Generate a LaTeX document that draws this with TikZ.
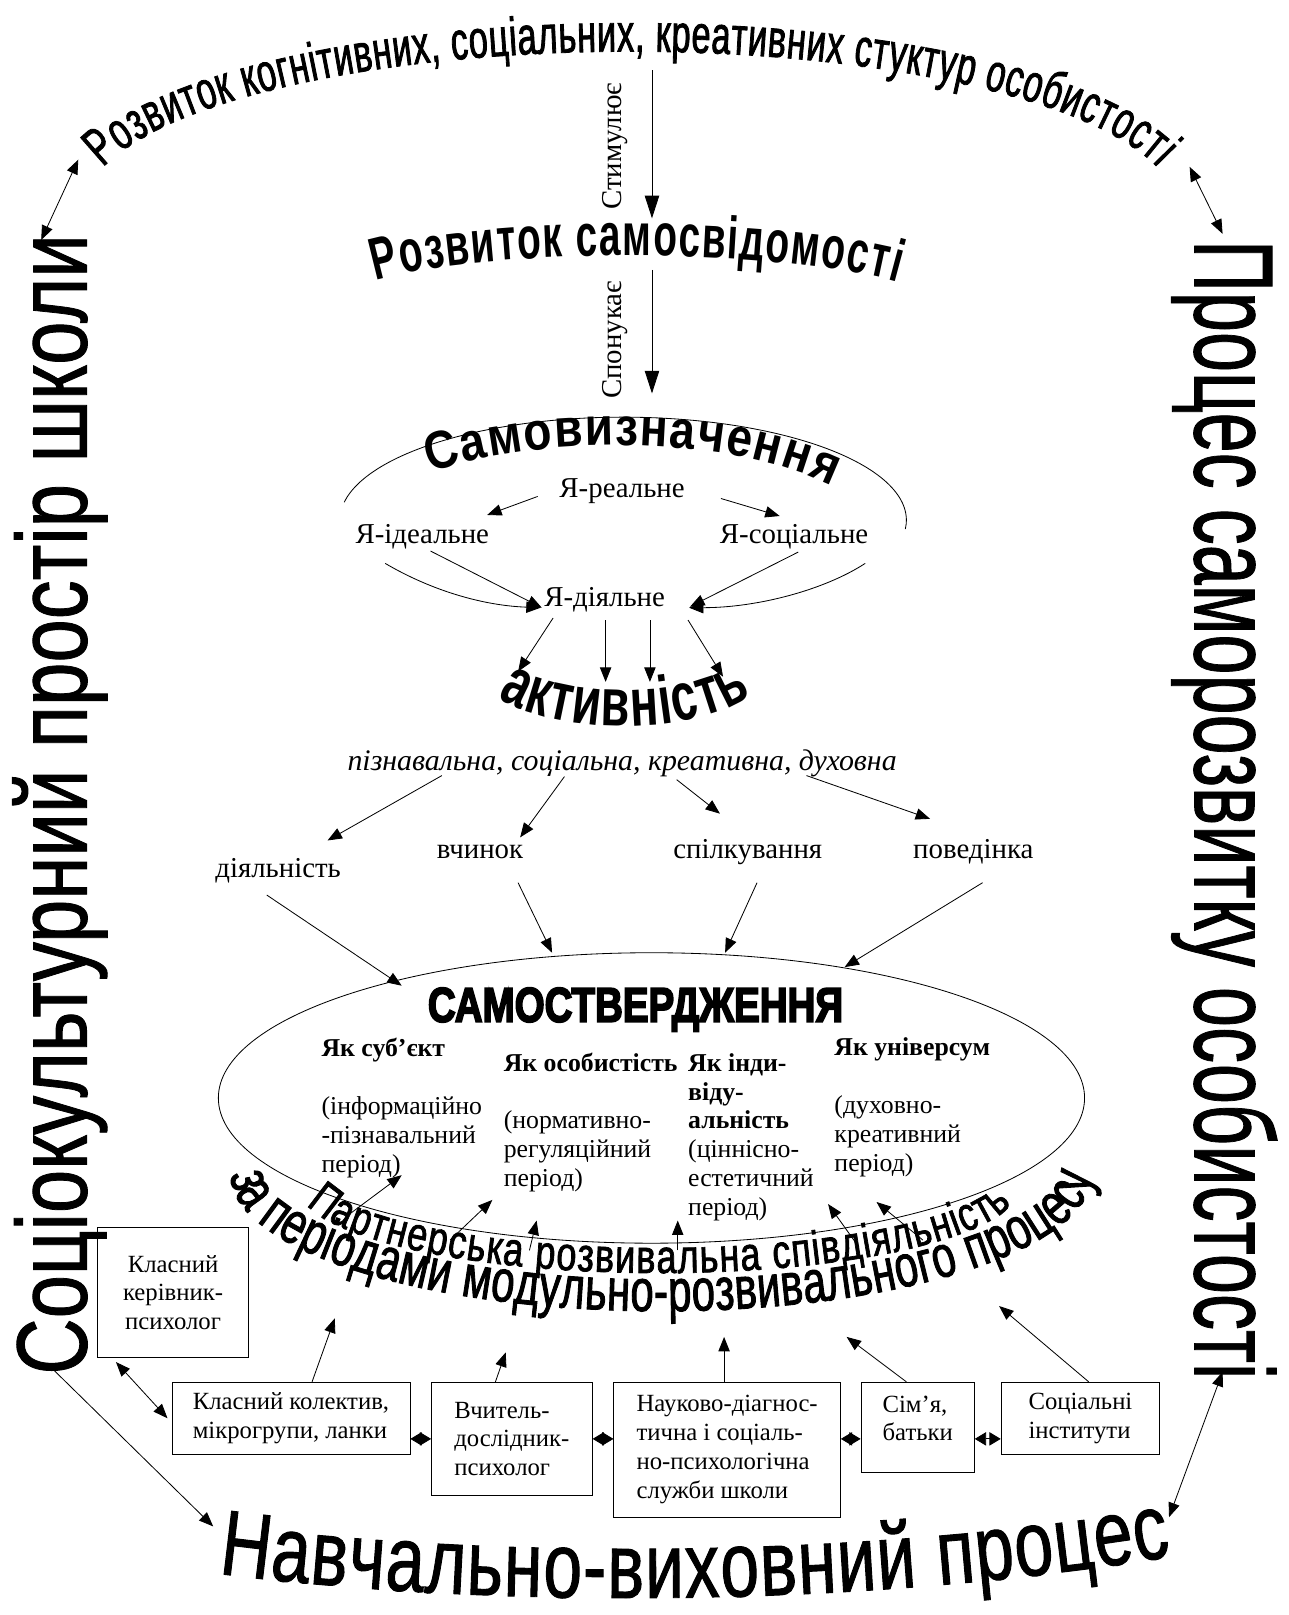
\documentclass[tikz,border=0pt]{standalone}
\usepackage{graphicx}
\usepackage{fontspec}
\setmainfont{Liberation Serif}
\newfontfamily\waTop[FakeStretch=0.64,FakeBold=1.5]{Liberation Sans}
\newfontfamily\waRS[FakeStretch=0.65]{Liberation Sans}
\newfontfamily\waSV[FakeStretch=0.86]{Liberation Sans}
\newfontfamily\waAct[FakeStretch=0.69]{Liberation Sans}
\newfontfamily\waPart[FakeStretch=0.76,FakeBold=1.5]{Liberation Sans}
\newfontfamily\waZa[FakeStretch=0.70,FakeBold=1.5]{Liberation Sans}
\newfontfamily\waNav[FakeStretch=0.75,FakeBold=1]{Liberation Sans}
\newfontfamily\waSide[FakeBold=1]{Liberation Sans}
\newfontfamily\heavyfont[FakeBold=4]{Liberation Sans}
\usetikzlibrary{arrows.meta,decorations.text,calc,shapes.geometric}
\begin{document}
\begin{tikzpicture}[x=1pt,y=-1pt,
  every node/.style={inner sep=0pt},
  lab/.style={font=\fontsize{28}{32}\selectfont},
  col/.style={font=\fontsize{25}{28}\selectfont, align=left, anchor=base west},
  box/.style={draw, line width=0.8pt, font=\fontsize{24}{28}\selectfont, align=left},
  arr/.style={line width=0.8pt, -{Triangle[length=14pt,width=11pt]}},
  darr/.style={line width=0.8pt, {Triangle[length=14pt,width=11pt]}-{Triangle[length=14pt,width=11pt]}},
  dbox/.style={line width=0.8pt, {Triangle[length=11pt,width=13pt]}-{Triangle[length=11pt,width=13pt]}},
  bigarr/.style={line width=0.8pt, -{Triangle[length=22pt,width=14pt]}}
]
\useasboundingbox (0,0) rectangle (1251,1568);

% ---------- curved WordArt-like texts ----------
\coordinate (topt) at (612,212);
\path[decorate, decoration={text along path, text align=fit to path,
  text={|\waTop\fontsize{52pt}{52pt}\selectfont|Розвиток когнітивних, соціальних, креативних стуктур особистості}}]
  plot[domain=165:15, samples=120] ({612+530*cos(\x)},{202-152*sin(\x)});

\coordinate (rs) at (618,252);
\path[decorate, decoration={text along path, text align=fit to path,
  text={|\waRS\bfseries\fontsize{58pt}{58pt}\selectfont|Розвиток самосвідомості}}]
  plot[domain=0:1, samples=60] ({365*(1-\x)^3+1440*(1-\x)^2*\x+2250*(1-\x)*\x^2+872*\x^3},{272*(1-\x)^3+720*(1-\x)^2*\x+720*(1-\x)*\x^2+274*\x^3});

\coordinate (sv) at (612,432);
\path[decorate, decoration={text along path, text align=fit to path,
  text={|\waSV\bfseries\fontsize{52pt}{52pt}\selectfont|Самовизначення}}]
  plot[domain=0:1, samples=60] ({418*(1-\x)^3+1530*(1-\x)^2*\x+2100*(1-\x)*\x^2+808*\x^3},{459*(1-\x)^3+1275*(1-\x)^2*\x+1254*(1-\x)*\x^2+472*\x^3});

\coordinate (act) at (606,685);
\path[decorate, decoration={text along path, text align=fit to path,
  text={|\waAct\bfseries\fontsize{66pt}{66pt}\selectfont|активність}}]
  plot[domain=0:1, samples=50] ({483*(1-\x)^3+1635*(1-\x)^2*\x+2010*(1-\x)*\x^2+730*\x^3},{678*(1-\x)^3+2145*(1-\x)^2*\x+2145*(1-\x)*\x^2+675*\x^3});

\coordinate (prt) at (640,1234);
\path[decorate, decoration={text along path, text align=fit to path,
  text={|\waPart\fontsize{46pt}{46pt}\selectfont|Партнерська розвивальна співдіяльність}}]
  plot[domain=192:348, samples=100] ({640+350*cos(\x)},{1152-84*sin(\x)});

\coordinate (zap) at (642,1240);
\path[decorate, decoration={text along path, text align=fit to path,
  text={|\waZa\fontsize{58pt}{58pt}\selectfont|за періодами модульно-розвивального процесу}}]
  plot[domain=180:360, samples=120] ({642+418*cos(\x)},{1140-133*sin(\x)});

\coordinate (nav) at (675,1560);
\path[decorate, decoration={text along path, text align=fit to path,
  text={|\waNav\fontsize{90pt}{90pt}\selectfont|Навчально-виховний процес}}]
  plot[domain=0:1, samples=80] ({212*(1-\x)^3+1500*(1-\x)^2*\x+2550*(1-\x)*\x^2+1138*\x^3},{1528*(1-\x)^3+4692*(1-\x)^2*\x+4677*(1-\x)*\x^2+1511*\x^3});

% ---------- side texts ----------
\node[anchor=base, rotate=90] (soc) at (84,781) {\resizebox{1107pt}{72pt}{\waSide Соціокультурний простір школи}};
\node[anchor=base, rotate=-90] (proc) at (1160,786) {\resizebox{1105pt}{80pt}{\waSide Процес саморозвитку особистості}};

% corner arrows
\draw[darr] ($(soc.base)+(-44,-548)$) -- ($(topt)+(-536,-57)$);
\draw[darr] ($(topt)+(543,-50)$) -- ($(proc.base)+(27,-559)$);
\draw[arr] ($(soc.base)+(-32,549)$) -- ($(nav)+(-468,-78)$);
\draw[darr] ($(proc.base)+(27,546)$) -- ($(nav)+(460,-87)$);

% ---------- upper part ----------
\node[rotate=90, font=\fontsize{28}{28}\selectfont] (stim) at (597,142) {Стимулює};
\node[rotate=90, font=\fontsize{28}{28}\selectfont] (spon) at (597,330) {Спонукає};
\draw[bigarr] ($(topt)+(21,-144)$) -- ($(rs)+(15,-40)$);
\draw[bigarr] ($(rs)+(15,10)$) -- ($(sv)+(21,-50)$);

% self-determination ellipse (upper part)
\draw[line width=0.8pt] plot[domain=170:-5, samples=60, smooth] ({605+275*cos(\x)},{505-100*sin(\x)});
\coordinate (svl) at (374,547);
\coordinate (svr) at (840,547);

\node[lab] (yr) at (604,477) {Я-реальне};
\node[lab] (yi) at (410,521) {Я-ідеальне};
\node[lab] (ys) at (771,521) {Я-соціальне};
\node[lab] (yd) at (587,582) {Я-діяльне};

\draw[arr] ($(yr)+(-82,5)$) -- ($(yi)+(63,-21)$);
\draw[arr] ($(yr)+(96,7)$) -- ($(ys)+(-14,-20)$);
\draw[arr] ($(yi)+(8,14)$) -- ($(yd)+(-61,8)$);
\draw[arr] ($(ys)+(4,15)$) -- ($(yd)+(83,7)$);
\draw[arr] (svl) .. controls (420,574) and (470,588) .. ($(yd)+(-62,8)$);
\draw[arr] (svr) .. controls (800,573) and (735,590) .. ($(yd)+(82,8)$);

\draw[arr] ($(yd)+(-50,18)$) -- ($(act)+(-103,-33)$);
\draw[arr] ($(yd)+(1,20)$) -- ($(act)+(-18,-23)$);
\draw[arr] ($(yd)+(44,20)$) -- ($(act)+(25,-23)$);
\draw[arr] ($(yd)+(81,20)$) -- ($(act)+(96,-28)$);

% ---------- kinds of activity ----------
\node[font=\fontsize{29}{32}\selectfont\itshape] (kinds) at (604,741) {пізнавальна, соціальна, креативна, духовна};
\node[lab] (dial) at (270,845) {діяльність};
\node[lab] (vch) at (466,827) {вчинок};
\node[lab] (spil) at (726,827) {спілкування};
\node[lab] (pov) at (945,827) {поведінка};

\draw[arr] ($(kinds)+(-175,12)$) -- ($(dial)+(48,-29)$);
\draw[arr] ($(kinds)+(-56,13)$) -- ($(vch)+(39,-14)$);
\draw[arr] ($(kinds)+(53,16)$) -- ($(spil)+(-27,-37)$);
\draw[arr] ($(kinds)+(179,12)$) -- ($(pov)+(-42,-32)$);

% ---------- self-assertion ellipse ----------
\node[draw, ellipse, line width=0.8pt, minimum width=841pt, minimum height=282pt] (ell) at (632.5,1066) {};
\node[anchor=base] (st) at (617,992) {\resizebox{403pt}{33pt}{\heavyfont\bfseries САМОСТВЕРДЖЕННЯ}};

\draw[arr] ($(dial)+(-11,24)$) -- ($(ell)+(-242.5,-109)$);
\draw[arr] ($(vch)+(37,30)$) -- ($(ell)+(-96.5,-141)$);
\draw[arr] ($(spil)+(9,30)$) -- ($(ell)+(71.5,-141)$);
\draw[arr] ($(pov)+(9,30)$) -- ($(ell)+(187.5,-127)$);

% base anchor of a multi-line node = baseline of its last line
\node[col] (c1) at (312,1138) {\textbf{Як суб’єкт}\\[28pt](інформаційно\\-пізнавальний\\період)};
\node[col] (c2) at (489,1152) {\textbf{Як особистість}\\[28pt](нормативно-\\регуляційний\\період)};
\node[col] (c3) at (668,1180) {\textbf{Як інди-}\\\textbf{віду-}\\\textbf{альність}\\(ціннісно-\\естетичний\\період)};
\node[col] (c4) at (810,1137) {\textbf{Як універсум}\\[28pt](духовно-\\креативний\\період)};

\draw[arr] ($(prt)+(-305,-52)$) -- ($(ell)+(-242.5,75)$);
\draw[arr] ($(prt)+(-203,-30)$) -- ($(ell)+(-154.5,99)$);
\draw[arr] ($(prt)+(-126,-20)$) -- ($(ell)+(-111.5,119)$);
\draw[arr] ($(prt)+(18,-20)$) -- ($(ell)+(25.5,119)$);
\draw[arr] ($(prt)+(194,-23)$) -- ($(ell)+(171.5,103)$);
\draw[arr] ($(prt)+(256,-30)$) -- ($(ell)+(218.5,101)$);

% ---------- boxes ----------
\node[box, minimum width=146pt, minimum height=126pt, align=center] (b0) at (168,1255) {Класний\\керівник-\\психолог};
\node[box, minimum width=231pt, minimum height=70pt] (b1) at (282.5,1377) {Класний колектив,\\мікрогрупи, ланки};
\node[box, minimum width=156pt, minimum height=110pt] (b2) at (497,1397) {Вчитель-\\дослідник-\\психолог};
\node[box, minimum width=220pt, minimum height=131pt] (b3) at (706,1407.5) {Науково-діагнос-\\тична і соціаль-\\но-психологічна\\служби школи};
\node[box, minimum width=110pt, minimum height=88pt, text depth=18pt] (b4) at (891,1386) {Сім’я,\\батьки};
\node[box, minimum width=154pt, minimum height=70pt] (b5) at (1049,1377) {Соціальні\\інститути};

\draw[darr] ($(b0.south west)+(18,4)$) -- ($(b1.west)+(-4,0)$);
\draw[dbox] (b1.east |- b2.west) -- (b2.west);
\draw[dbox] (b2.east) -- (b2.east -| b3.west);
\draw[dbox] (b3.east |- b2.east) -- (b4.west |- b2.east);
\draw[dbox] (b4.east |- b2.east) -- (b5.west |- b2.east);

\draw[arr] ($(b1.north)+(20.5,0)$) -- ($(zap)+(-317,40)$);
\draw[arr] ($(b2.north)+(-16,0)$) -- ($(zap)+(-151,73)$);
\draw[arr] ($(b3.north)+(-3,0)$) -- ($(zap)+(61,58)$);
\draw[arr] ($(b4.north)+(-11,0)$) -- ($(zap)+(180,58)$);
\draw[arr] ($(b5.north)+(8,0)$) -- ($(zap)+(328,28)$);
\end{tikzpicture}
\end{document}
